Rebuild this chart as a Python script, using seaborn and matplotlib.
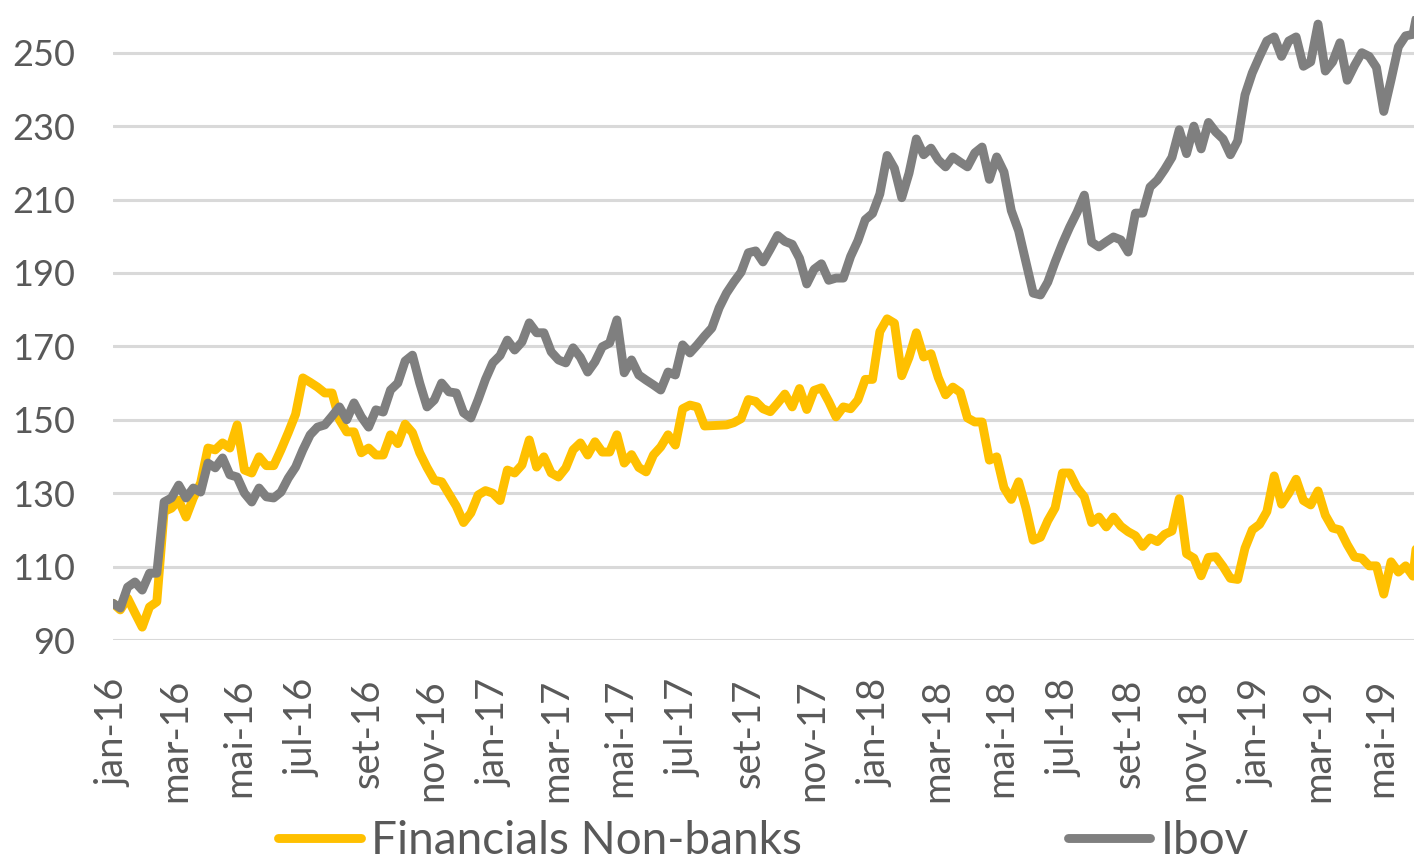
import pandas as pd
import matplotlib
matplotlib.use("Agg")
import matplotlib.pyplot as plt
import seaborn as sns

# weekly index levels, base 100 at the start of 2016
weeks = pd.date_range("2016-01-01", periods=180, freq="7D")

financials_non_banks = [
    100, 98.2, 101.4, 97.4, 93.5, 99, 100.4, 125, 125.9, 128.1,
    123.5, 128.7, 132.8, 142.3, 141.8, 143.7, 142.3, 148.6, 136.3, 135.5,
    139.9, 137.5, 137.5, 141.8, 146.5, 151.5, 161.4, 160.2, 158.9, 157.3,
    157.3, 150, 146.7, 146.7, 141, 142.3, 140.4, 140.4, 145.9, 143.5,
    148.8, 146.5, 141, 137, 133.5, 133.1, 129.8, 126.5, 122, 124.6,
    129.5, 130.7, 130, 128, 136.3, 135.5, 137.7, 144.5, 137.1, 139.9,
    135.5, 134.4, 136.9, 141.8, 143.7, 140.4, 144, 141.2, 141.2, 145.9,
    138.2, 140.5, 137, 135.8, 140.4, 142.6, 145.9, 143.1, 153, 154,
    153.5, 148.3, 148.4, 148.5, 148.6, 149.2, 150.3, 155.5, 155, 153,
    152.2, 154.5, 157, 153.5, 158.5, 152.8, 158, 158.7, 155, 150.8,
    153.5, 153, 155.4, 161, 161, 174, 177.5, 176.3, 162, 167,
    173.7, 167.1, 168, 161.5, 156.8, 158.9, 157.5, 150.5, 149.4, 149.4,
    139, 139.9, 131.5, 128.3, 133.1, 126, 117.2, 118, 122.5, 126,
    135.5, 135.5, 131.5, 129, 122, 123.5, 120.8, 123.5, 121, 119.5,
    118.4, 115.5, 117.8, 116.8, 118.8, 119.7, 128.5, 113.5, 112.3, 107.5,
    112.5, 112.7, 110, 106.8, 106.5, 115, 120, 121.5, 125, 134.7,
    127, 130, 133.8, 128, 126.8, 130.6, 124, 120.5, 120, 116,
    112.6, 112.3, 110.2, 110.2, 102.5, 111.3, 108.5, 110.2, 107.4, 125,
]

ibov = [
    100, 98.7, 104.4, 105.8, 103.6, 108.2, 108.2, 127.6, 128.7, 132.2,
    128.7, 131.4, 130.3, 138.2, 136.9, 139.6, 135, 134.4, 130, 127.6,
    131.4, 129, 128.7, 130.3, 134.1, 137.1, 141.8, 145.9, 148, 148.6,
    151, 153.5, 150, 154.6, 150.8, 148, 152.7, 152.1, 158.1, 160,
    166, 167.6, 160, 153.5, 155.4, 160, 157.6, 157.3, 151.9, 150.5,
    155.5, 161, 165.5, 167.5, 171.7, 169, 171.2, 176.4, 173.7, 173.7,
    168.5, 166.3, 165.5, 169.6, 167, 163, 165.8, 169.9, 170.9, 177.2,
    162.8, 166.3, 162.2, 160.8, 159.5, 158.1, 163, 162.2, 170.4, 168.2,
    170.4, 172.8, 175, 180.5, 184.5, 187.5, 190.2, 195.5, 196, 193,
    196.5, 200.2, 198.6, 197.8, 194, 187, 191, 192.5, 188, 188.6,
    188.6, 194.5, 198.8, 204.5, 206.2, 211.5, 222, 218.5, 210.5, 217.2,
    226.5, 222.2, 224, 220.8, 218.9, 221.6, 220.2, 218.9, 222.7, 224.3,
    215.5, 221.6, 217.5, 207, 201.5, 193, 184.5, 184, 187.5, 193,
    198, 202.5, 206.5, 211.2, 198.4, 197.1, 198.5, 199.8, 199, 195.7,
    206.3, 206.3, 213.4, 215.3, 218.2, 221.5, 229, 222.5, 230, 223.8,
    231, 228.4, 226.5, 222.2, 226, 238.5, 244.5, 249, 253.2, 254.3,
    249, 253.2, 254.3, 246.3, 247.5, 257.8, 245, 247.5, 252.7, 242.5,
    246.5, 250, 249, 246, 234, 242.6, 251.6, 254.6, 255, 265,
]

series_names = ["Financials Non-banks", "Ibov"]
series_colors = ["#FFC000", "#7F7F7F"]

tick_dates = pd.date_range("2016-01-01", "2019-05-01", freq="2MS")
tick_labels = [
    "jan-16", "mar-16", "mai-16", "jul-16", "set-16", "nov-16",
    "jan-17", "mar-17", "mai-17", "jul-17", "set-17", "nov-17",
    "jan-18", "mar-18", "mai-18", "jul-18", "set-18", "nov-18",
    "jan-19", "mar-19", "mai-19",
]
y_ticks = [90, 110, 130, 150, 170, 190, 210, 230, 250]

df = pd.concat([
    pd.DataFrame({"date": weeks, "value": financials_non_banks, "series": series_names[0]}),
    pd.DataFrame({"date": weeks, "value": ibov, "series": series_names[1]}),
])

sns.set_style("white")
plt.rcParams["font.family"] = ["Lato", "DejaVu Sans"]
text_color = "#595959"
lw = 6.4

fig = plt.figure(figsize=(14.15, 8.6), dpi=100)
ax = fig.add_axes([113 / 1415, 220 / 860, 1301 / 1415, 624 / 860])

sns.lineplot(
    data=df, x="date", y="value", hue="series",
    hue_order=series_names, palette=series_colors,
    linewidth=lw, ax=ax,
)
for line in ax.get_lines():
    line.set_solid_joinstyle("round")
    line.set_solid_capstyle("round")

ax.set_ylim(90, 260)
ax.set_xlim(pd.Timestamp("2016-01-01"), pd.Timestamp("2019-06-01"))
ax.set_yticks(y_ticks)
ax.set_xticks(tick_dates)
ax.set_xticklabels(tick_labels, rotation=90)
ax.yaxis.grid(True, color="#D9D9D9", linewidth=2.2)
ax.xaxis.grid(False)
ax.set_axisbelow(True)
for s in ax.spines.values():
    s.set_visible(False)
ax.tick_params(axis="y", length=0, pad=27, labelsize=26, labelcolor=text_color)
ax.tick_params(axis="x", length=0, pad=28, labelsize=27.5, labelcolor=text_color)
ax.set_xlabel("")
ax.set_ylabel("")

handles, labels = ax.get_legend_handles_labels()
leg = ax.legend(
    handles, labels, loc="center", bbox_to_anchor=(0.5, -0.322),
    ncol=2, frameon=False, fontsize=33, handlelength=1.8,
    handletextpad=0.22, columnspacing=5.8,
)
for t in leg.get_texts():
    t.set_color(text_color)
for h in leg.get_lines():
    h.set_linewidth(lw)
    h.set_solid_capstyle("round")

fig.savefig("out.png", dpi=100)
